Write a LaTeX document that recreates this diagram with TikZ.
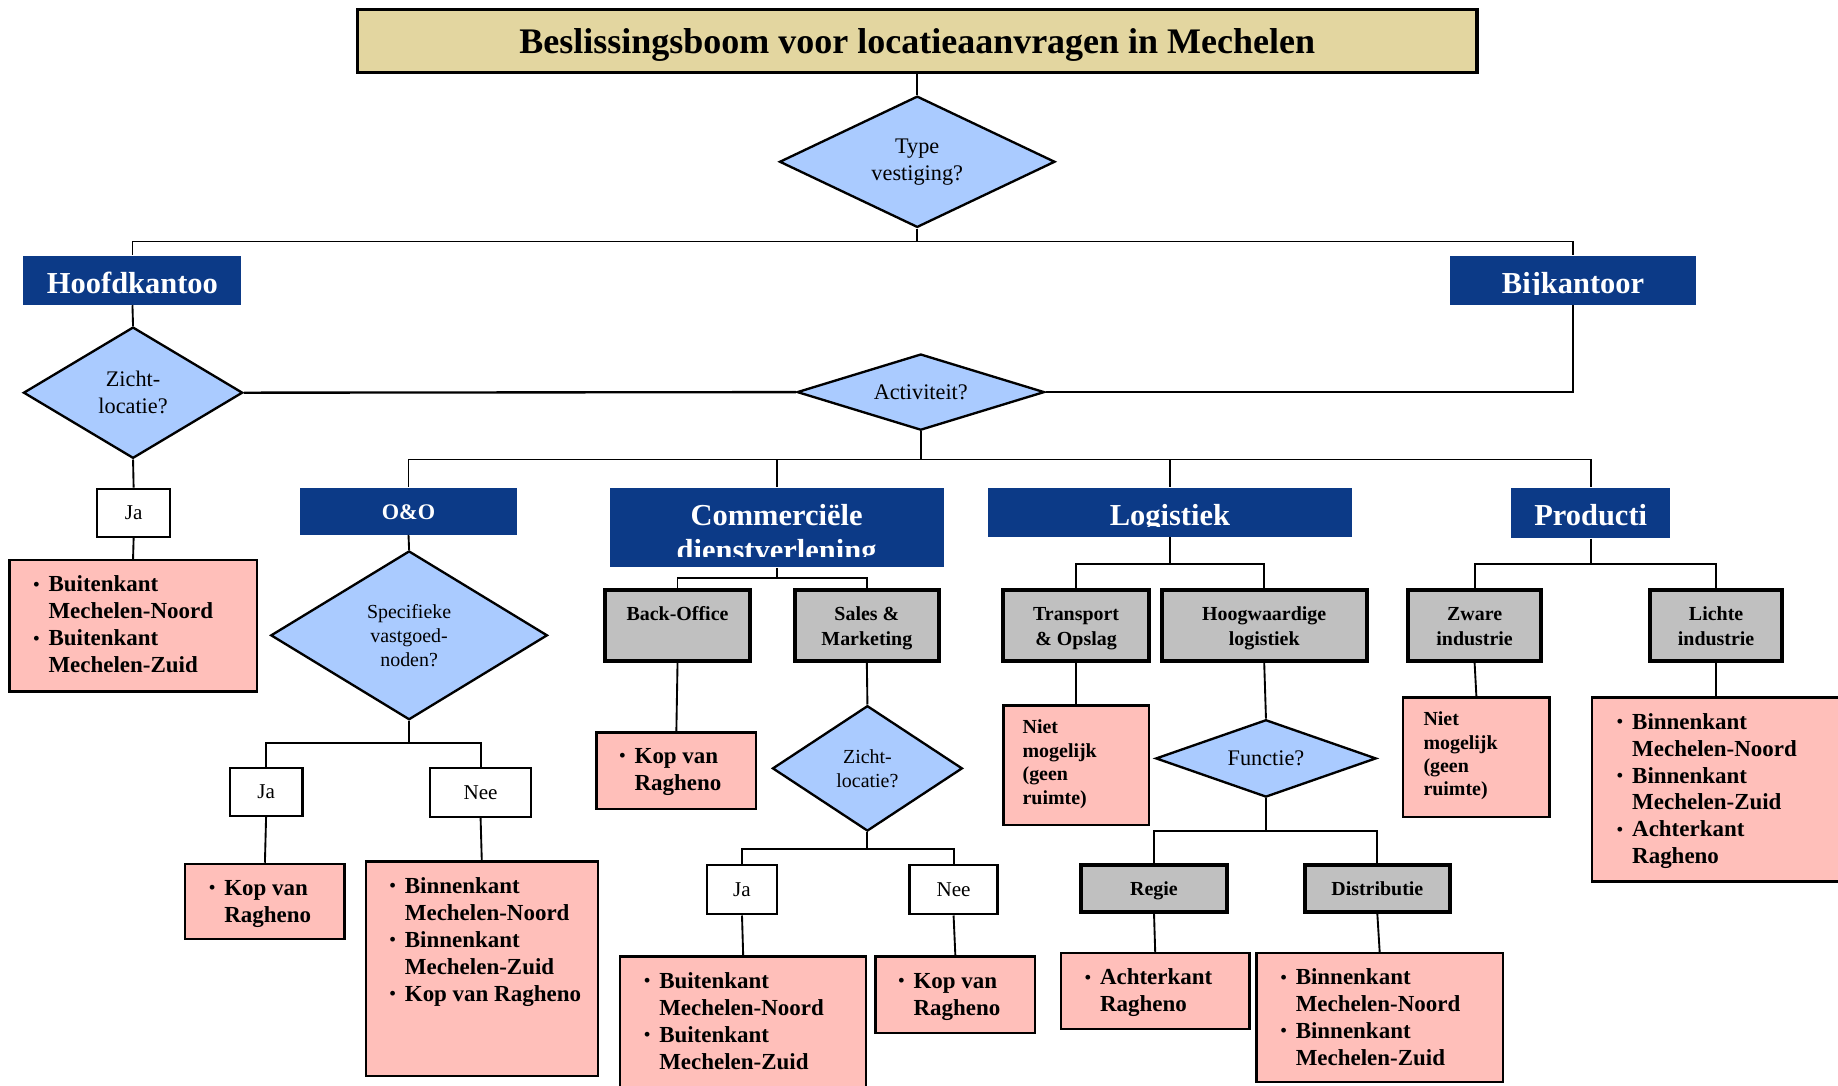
\documentclass[tikz,border=0pt]{standalone}
\usepackage{fontspec}
\setmainfont{Liberation Serif}
\usetikzlibrary{shapes.geometric,calc}
\definecolor{titlefill}{HTML}{E3D6A0}
\definecolor{dfill}{HTML}{AACBFF}
\definecolor{hblue}{HTML}{0C3A87}
\definecolor{gfill}{HTML}{C0C0C0}
\definecolor{pfill}{HTML}{FFBFBA}
\newcommand\bu{\makebox[6.5pt][l]{\raisebox{0.7pt}{\fontsize{7.5}{7.5}\selectfont •}}}
\newcommand\nb{\hspace*{6.5pt}}
\newcommand\gtx[1]{\raisebox{-1pt}[\height][\depth]{\begin{tabular}{@{}c@{}}#1\end{tabular}}}
\begin{document}
\begin{tikzpicture}[x=0.5pt,y=-0.5pt,
  sz/.style 2 args={minimum width=#1*0.5pt, minimum height=#2*0.5pt},
  titlebox/.style={draw=black, line width=1.3pt, fill=titlefill, inner sep=0},
  dec/.style={diamond, draw=black, line width=1pt, fill=dfill, inner sep=0, align=center, font=\fontsize{9.5}{11.5}\selectfont},
  decs/.style={dec, font=\fontsize{8.5}{10.2}\selectfont},
  hdr/.style={fill=hblue, inner sep=0},
  hdrtext/.style={text=white, font=\bfseries\fontsize{13}{15}\selectfont, inner sep=0, anchor=base},
  ans/.style={draw=black, line width=1pt, fill=white, inner sep=0, font=\fontsize{9}{11}\selectfont},
  grey/.style={draw=black, line width=1.7pt, fill=gfill, inner sep=0, font=\bfseries\fontsize{8.5}{10.8}\selectfont},
  pink/.style={draw=black, line width=1pt, fill=pfill, inner sep=0},
  ptext/.style={inner sep=0, anchor=base west, font=\bfseries\fontsize{9.8}{11.5}\selectfont},
  ntext/.style={inner sep=0, anchor=base west, font=\bfseries\fontsize{8.5}{10}\selectfont},
  conn/.style={line width=0.8pt}]
\useasboundingbox (0,0) rectangle (1568,926);
\clip (0,0) rectangle (1568,926);
\fill[white] (0,0) rectangle (1568,926);

% title
\node[titlebox, sz={955}{54}] (title) at (782.5,35) {};
\node[inner sep=0, anchor=base, font=\bfseries\fontsize{15.35}{18}\selectfont] (titlet) at (782.5,46) {Beslissingsboom voor locatieaanvragen in Mechelen};

% top decision
\node[dec, sz={235}{112}, aspect=2.1] (type) at (782.5,138) {Type\\vestiging?};

% Hoofdkantoor / Bijkantoor
\node[hdr, sz={186}{42}] (hq) at (113,239) {};
\node[hdr, sz={210}{42}] (bk) at (1342,239) {};
\begin{scope}
  \clip (20,218) rectangle (206,251);
  \node[hdrtext] (hqt) at (113,250) {Hoofdkantoo};
\end{scope}
\begin{scope}
  \clip (1237,218) rectangle (1447,251);
  \node[hdrtext] (bkt) at (1342,250) {Bijkantoor};
\end{scope}

\node[dec, sz={187}{112}, aspect=1.67] (zicht1) at (113.5,335) {Zicht-\\locatie?};
\node[dec, sz={211}{65}, aspect=3.25] (act) at (785.5,334.5) {Activiteit?};

\node[ans, sz={62}{41}] (ja1) at (114,437.5) {Ja};
\node[pink, sz={211}{112}] (p1) at (113.5,534) {};
\node[ptext] (p1t) at ($(p1.north west)+(21,28)$) {\begin{tabular}[t]{@{}l@{}}\bu Buitenkant\\\nb Mechelen-Noord\\\bu Buitenkant\\\nb Mechelen-Zuid\end{tabular}};

% activity headers
\node[hdr, sz={185}{40}] (oo) at (348.5,436) {};
\node[inner sep=0, anchor=base, text=white, font=\bfseries\fontsize{9.5}{11}\selectfont] (oot) at (348.5,443) {O\&O};
\node[hdr, sz={285}{68}] (cd) at (662.5,450) {};
\begin{scope}
  \clip (520,416) rectangle (805,475);
  \node[hdrtext] (cdt) at (662.5,448) {\begin{tabular}[t]{@{}c@{}}Commerciële\\dienstverlening\end{tabular}};
\end{scope}
\node[hdr, sz={310}{42}] (log) at (998,437) {};
\begin{scope}
  \clip (843,416) rectangle (1153,449.5);
  \node[hdrtext] (logt) at (998,448) {Logistiek};
\end{scope}
\node[hdr, sz={136}{43}] (prod) at (1357,437.5) {};
\node[hdrtext] (prodt) at (1357,448) {Producti};

% O&O branch
\node[decs, sz={236}{144}, aspect=1.64] (spec) at (349,542) {Specifieke\\vastgoed-\\noden?};
\node[ans, sz={62}{41}] (ja2) at (227,675.5) {Ja};
\node[ans, sz={86}{42}] (nee2) at (410,676) {Nee};
\node[pink, sz={136}{64}] (p2) at (226,769) {};
\node[ptext] (p2t) at ($(p2.north west)+(21,28)$) {\begin{tabular}[t]{@{}l@{}}\bu Kop van\\\nb Ragheno\end{tabular}};
\node[pink, sz={198}{183}] (p3) at (411,826.5) {};
\node[ptext] (p3t) at ($(p3.north west)+(21,28)$) {\begin{tabular}[t]{@{}l@{}}\bu Binnenkant\\\nb Mechelen-Noord\\\bu Binnenkant\\\nb Mechelen-Zuid\\\bu Kop van Ragheno\end{tabular}};

% Commerciele branch
\node[grey, sz={124}{61}] (bo) at (578,533.5) {\gtx{Back-Office\\\strut}};
\node[grey, sz={123}{61}] (sm) at (739.5,533.5) {\gtx{Sales \&\\Marketing}};
\node[pink, sz={136}{65}] (p4) at (577,657.5) {};
\node[ptext] (p4t) at ($(p4.north west)+(20,27)$) {\begin{tabular}[t]{@{}l@{}}\bu Kop van\\\nb Ragheno\end{tabular}};
\node[decs, sz={162}{107}, aspect=1.51] (zicht2) at (740,655.5) {Zicht-\\locatie?};
\node[ans, sz={60}{42}] (ja3) at (633,759) {Ja};
\node[ans, sz={75}{42}] (nee3) at (813.5,759) {Nee};
\node[pink, sz={210}{160}] (p5) at (634,896) {};
\node[ptext] (p5t) at ($(p5.north west)+(21,28)$) {\begin{tabular}[t]{@{}l@{}}\bu Buitenkant\\\nb Mechelen-Noord\\\bu Buitenkant\\\nb Mechelen-Zuid\end{tabular}};
\node[pink, sz={136}{65}] (p6) at (815,848.5) {};
\node[ptext] (p6t) at ($(p6.north west)+(20,28)$) {\begin{tabular}[t]{@{}l@{}}\bu Kop van\\\nb Ragheno\end{tabular}};

% Logistiek branch
\node[grey, sz={124}{61}] (tr) at (918,533.5) {\gtx{Transport\\\& Opslag}};
\node[grey, sz={175}{61}] (hw) at (1078.5,533.5) {\gtx{Hoogwaardige\\logistiek}};
\node[pink, sz={124}{102}] (p7) at (918,653) {};
\node[ntext] (p7t) at ($(p7.north west)+(17,25)$) {\begin{tabular}[t]{@{}l@{}}Niet\\mogelijk\\(geen\\ruimte)\end{tabular}};
\node[dec, sz={188}{66}, aspect=2.85] (fn) at (1080,647) {Functie?};
\node[grey, sz={125}{40}] (rg) at (984.5,758) {\gtx{Regie}};
\node[grey, sz={124}{40}] (ds) at (1175,758) {\gtx{Distributie}};
\node[pink, sz={161}{65}] (p8) at (985.5,845.5) {};
\node[ptext] (p8t) at ($(p8.north west)+(21,28)$) {\begin{tabular}[t]{@{}l@{}}\bu Achterkant\\\nb Ragheno\end{tabular}};
\node[pink, sz={210}{110}] (p9) at (1177,868) {};
\node[ptext] (p9t) at ($(p9.north west)+(21,28)$) {\begin{tabular}[t]{@{}l@{}}\bu Binnenkant\\\nb Mechelen-Noord\\\bu Binnenkant\\\nb Mechelen-Zuid\end{tabular}};

% Productie branch
\node[grey, sz={114}{61}] (zw) at (1258,533.5) {\gtx{Zware\\industrie}};
\node[grey, sz={112}{61}] (li) at (1464,533.5) {\gtx{Lichte\\industrie}};
\node[pink, sz={125}{102}] (p10) at (1259.5,646) {};
\node[ntext] (p10t) at ($(p10.north west)+(18,25)$) {\begin{tabular}[t]{@{}l@{}}Niet\\mogelijk\\(geen\\ruimte)\end{tabular}};
\node[pink, sz={242}{157}] (p11) at (1479,673.5) {};
\node[ptext] (p11t) at ($(p11.north west)+(22,28)$) {\begin{tabular}[t]{@{}l@{}}\bu Binnenkant\\\nb Mechelen-Noord\\\bu Binnenkant\\\nb Mechelen-Zuid\\\bu Achterkant\\\nb Ragheno\end{tabular}};

% junctions
\coordinate (j1) at (type.south |- 0,206);
\coordinate (j2) at (act.south |- 0,392);
\coordinate (j3) at (spec.south |- 0,634);
\coordinate (j4) at (cd.south |- 0,493);
\coordinate (j5) at (zicht2.south |- 0,724);
\coordinate (j6) at (log.south |- 0,481);
\coordinate (j7) at (fn.south |- 0,709);
\coordinate (j8) at (prod.south |- 0,481);

% connectors
\draw[conn] (title.south) -- (type.north);
\draw[conn] (type.south) -- (j1) -| (hq.north);
\draw[conn] (j1) -| (bk.north);
\draw[conn] (hq.south) -- (zicht1.north);
\draw[line width=1pt] (zicht1.east) -- (act.west);
\draw[conn] (bk.south) |- (act.east);
\draw[conn] (zicht1.south) -- (ja1.north);
\draw[conn] (ja1.south) -- (p1.north);
\draw[conn] (act.south) -- (j2) -| (oo.north);
\draw[conn] (j2) -| (cd.north);
\draw[conn] (j2) -| (log.north);
\draw[conn] (j2) -| (prod.north);
\draw[conn] (oo.south) -- (spec.north);
\draw[conn] (spec.south) -- (j3) -| (ja2.north);
\draw[conn] (j3) -| (nee2.north);
\draw[conn] (ja2.south) -- (p2.north);
\draw[conn] (nee2.south) -- (p3.north);
\draw[conn] (cd.south) -- (j4) -| (bo.north);
\draw[conn] (j4) -| (sm.north);
\draw[conn] (bo.south) -- (p4.north);
\draw[conn] (sm.south) -- (zicht2.north);
\draw[conn] (zicht2.south) -- (j5) -| (ja3.north);
\draw[conn] (j5) -| (nee3.north);
\draw[conn] (ja3.south) -- (p5.north);
\draw[conn] (nee3.south) -- (p6.north);
\draw[conn] (log.south) -- (j6) -| (tr.north);
\draw[conn] (j6) -| (hw.north);
\draw[conn] (tr.south) -- (p7.north);
\draw[conn] (hw.south) -- (fn.north);
\draw[conn] (fn.south) -- (j7) -| (rg.north);
\draw[conn] (j7) -| (ds.north);
\draw[conn] (rg.south) -- (p8.north);
\draw[conn] (ds.south) -- (p9.north);
\draw[conn] (prod.south) -- (j8) -| (zw.north);
\draw[conn] (j8) -| (li.north);
\draw[conn] (zw.south) -- (p10.north);
\draw[conn] (li.south) -- (li.south |- p11.north);
\end{tikzpicture}
\end{document}
